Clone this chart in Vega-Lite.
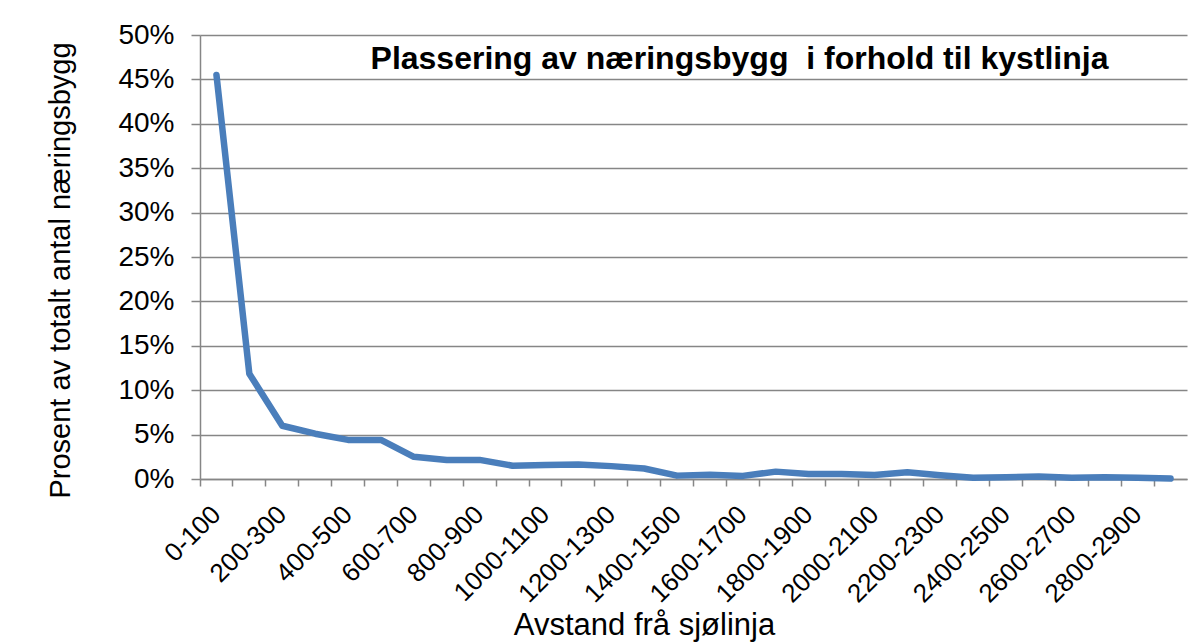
{
  "$schema": "https://vega.github.io/schema/vega-lite/v6.json",
  "width": 987,
  "height": 444,
  "autosize": {"type": "none"},
  "padding": {"left": 200, "top": 35, "right": 17, "bottom": 164},
  "background": "white",
  "title": {
    "text": "Plassering av næringsbygg \u00a0i forhold til kystlinja",
    "font": "Liberation Sans",
    "fontSize": 32,
    "fontWeight": "bold",
    "color": "#000000",
    "anchor": "middle",
    "frame": "group",
    "baseline": "alphabetic",
    "offset": 0,
    "dx": 46,
    "dy": 80
  },
  "data": {
    "values": [
      {"cat": "0-100", "v": 0.455},
      {"cat": "100-200", "v": 0.1185},
      {"cat": "200-300", "v": 0.060},
      {"cat": "300-400", "v": 0.051},
      {"cat": "400-500", "v": 0.044},
      {"cat": "500-600", "v": 0.044},
      {"cat": "600-700", "v": 0.025},
      {"cat": "700-800", "v": 0.0215},
      {"cat": "800-900", "v": 0.0215},
      {"cat": "900-1000", "v": 0.015},
      {"cat": "1000-1100", "v": 0.0158},
      {"cat": "1100-1200", "v": 0.0162},
      {"cat": "1200-1300", "v": 0.0145},
      {"cat": "1300-1400", "v": 0.0118},
      {"cat": "1400-1500", "v": 0.0038},
      {"cat": "1500-1600", "v": 0.0048},
      {"cat": "1600-1700", "v": 0.0035},
      {"cat": "1700-1800", "v": 0.0083},
      {"cat": "1800-1900", "v": 0.0057},
      {"cat": "1900-2000", "v": 0.0057},
      {"cat": "2000-2100", "v": 0.0045},
      {"cat": "2100-2200", "v": 0.0075},
      {"cat": "2200-2300", "v": 0.0042},
      {"cat": "2300-2400", "v": 0.0015},
      {"cat": "2400-2500", "v": 0.002},
      {"cat": "2500-2600", "v": 0.0027},
      {"cat": "2600-2700", "v": 0.0015},
      {"cat": "2700-2800", "v": 0.002},
      {"cat": "2800-2900", "v": 0.0015},
      {"cat": "2900-3000", "v": 0.0005}
    ]
  },
  "mark": {
    "type": "line",
    "color": "#4a7ebb",
    "strokeWidth": 6.5,
    "strokeCap": "round",
    "strokeJoin": "round"
  },
  "encoding": {
    "x": {
      "field": "cat",
      "type": "ordinal",
      "sort": null,
      "bandPosition": 0.5,
      "scale": {"type": "band", "paddingInner": 0, "paddingOuter": 0},
      "axis": {
        "title": "Avstand frå sjølinja",
        "titleFont": "Liberation Sans",
        "titleFontSize": 31,
        "titleFontWeight": "normal",
        "titleColor": "#000000",
        "titleX": 444,
        "titleY": 155,
        "titleBaseline": "alphabetic",
        "titleAnchor": "middle",
        "bandPosition": 0,
        "labelOffset": 0,
        "labelAngle": -45,
        "labelAlign": "right",
        "labelBaseline": "middle",
        "labelFont": "Liberation Sans",
        "labelFontSize": 26,
        "labelColor": "#000000",
        "labelPadding": 24,
        "labelOverlap": false,
        "labelExpr": "parseInt(slice(datum.label, 0, indexof(datum.label, '-'))) % 200 == 0 ? datum.label : ''",
        "tickSize": 7,
        "tickColor": "#868686",
        "tickWidth": 1.5,
        "domainColor": "#868686",
        "domainWidth": 1.5,
        "grid": false
      }
    },
    "y": {
      "field": "v",
      "type": "quantitative",
      "scale": {"domain": [0, 0.5], "nice": false},
      "axis": {
        "title": "Prosent av totalt antal næringsbygg",
        "titleFont": "Liberation Sans",
        "titleFontSize": 29,
        "titleFontWeight": "normal",
        "titleColor": "#000000",
        "titleX": -140,
        "titleY": 235,
        "titleBaseline": "middle",
        "titleAngle": -90,
        "values": [0, 0.05, 0.1, 0.15, 0.2, 0.25, 0.3, 0.35, 0.4, 0.45, 0.5],
        "format": ".0%",
        "labelFont": "Liberation Sans",
        "labelFontSize": 28,
        "labelColor": "#000000",
        "labelPadding": 17,
        "tickSize": 9,
        "tickColor": "#868686",
        "tickWidth": 1.5,
        "domainColor": "#868686",
        "domainWidth": 1.5,
        "grid": true,
        "gridColor": "#868686",
        "gridWidth": 1.5
      }
    }
  },
  "config": {"view": {"stroke": null}}
}
